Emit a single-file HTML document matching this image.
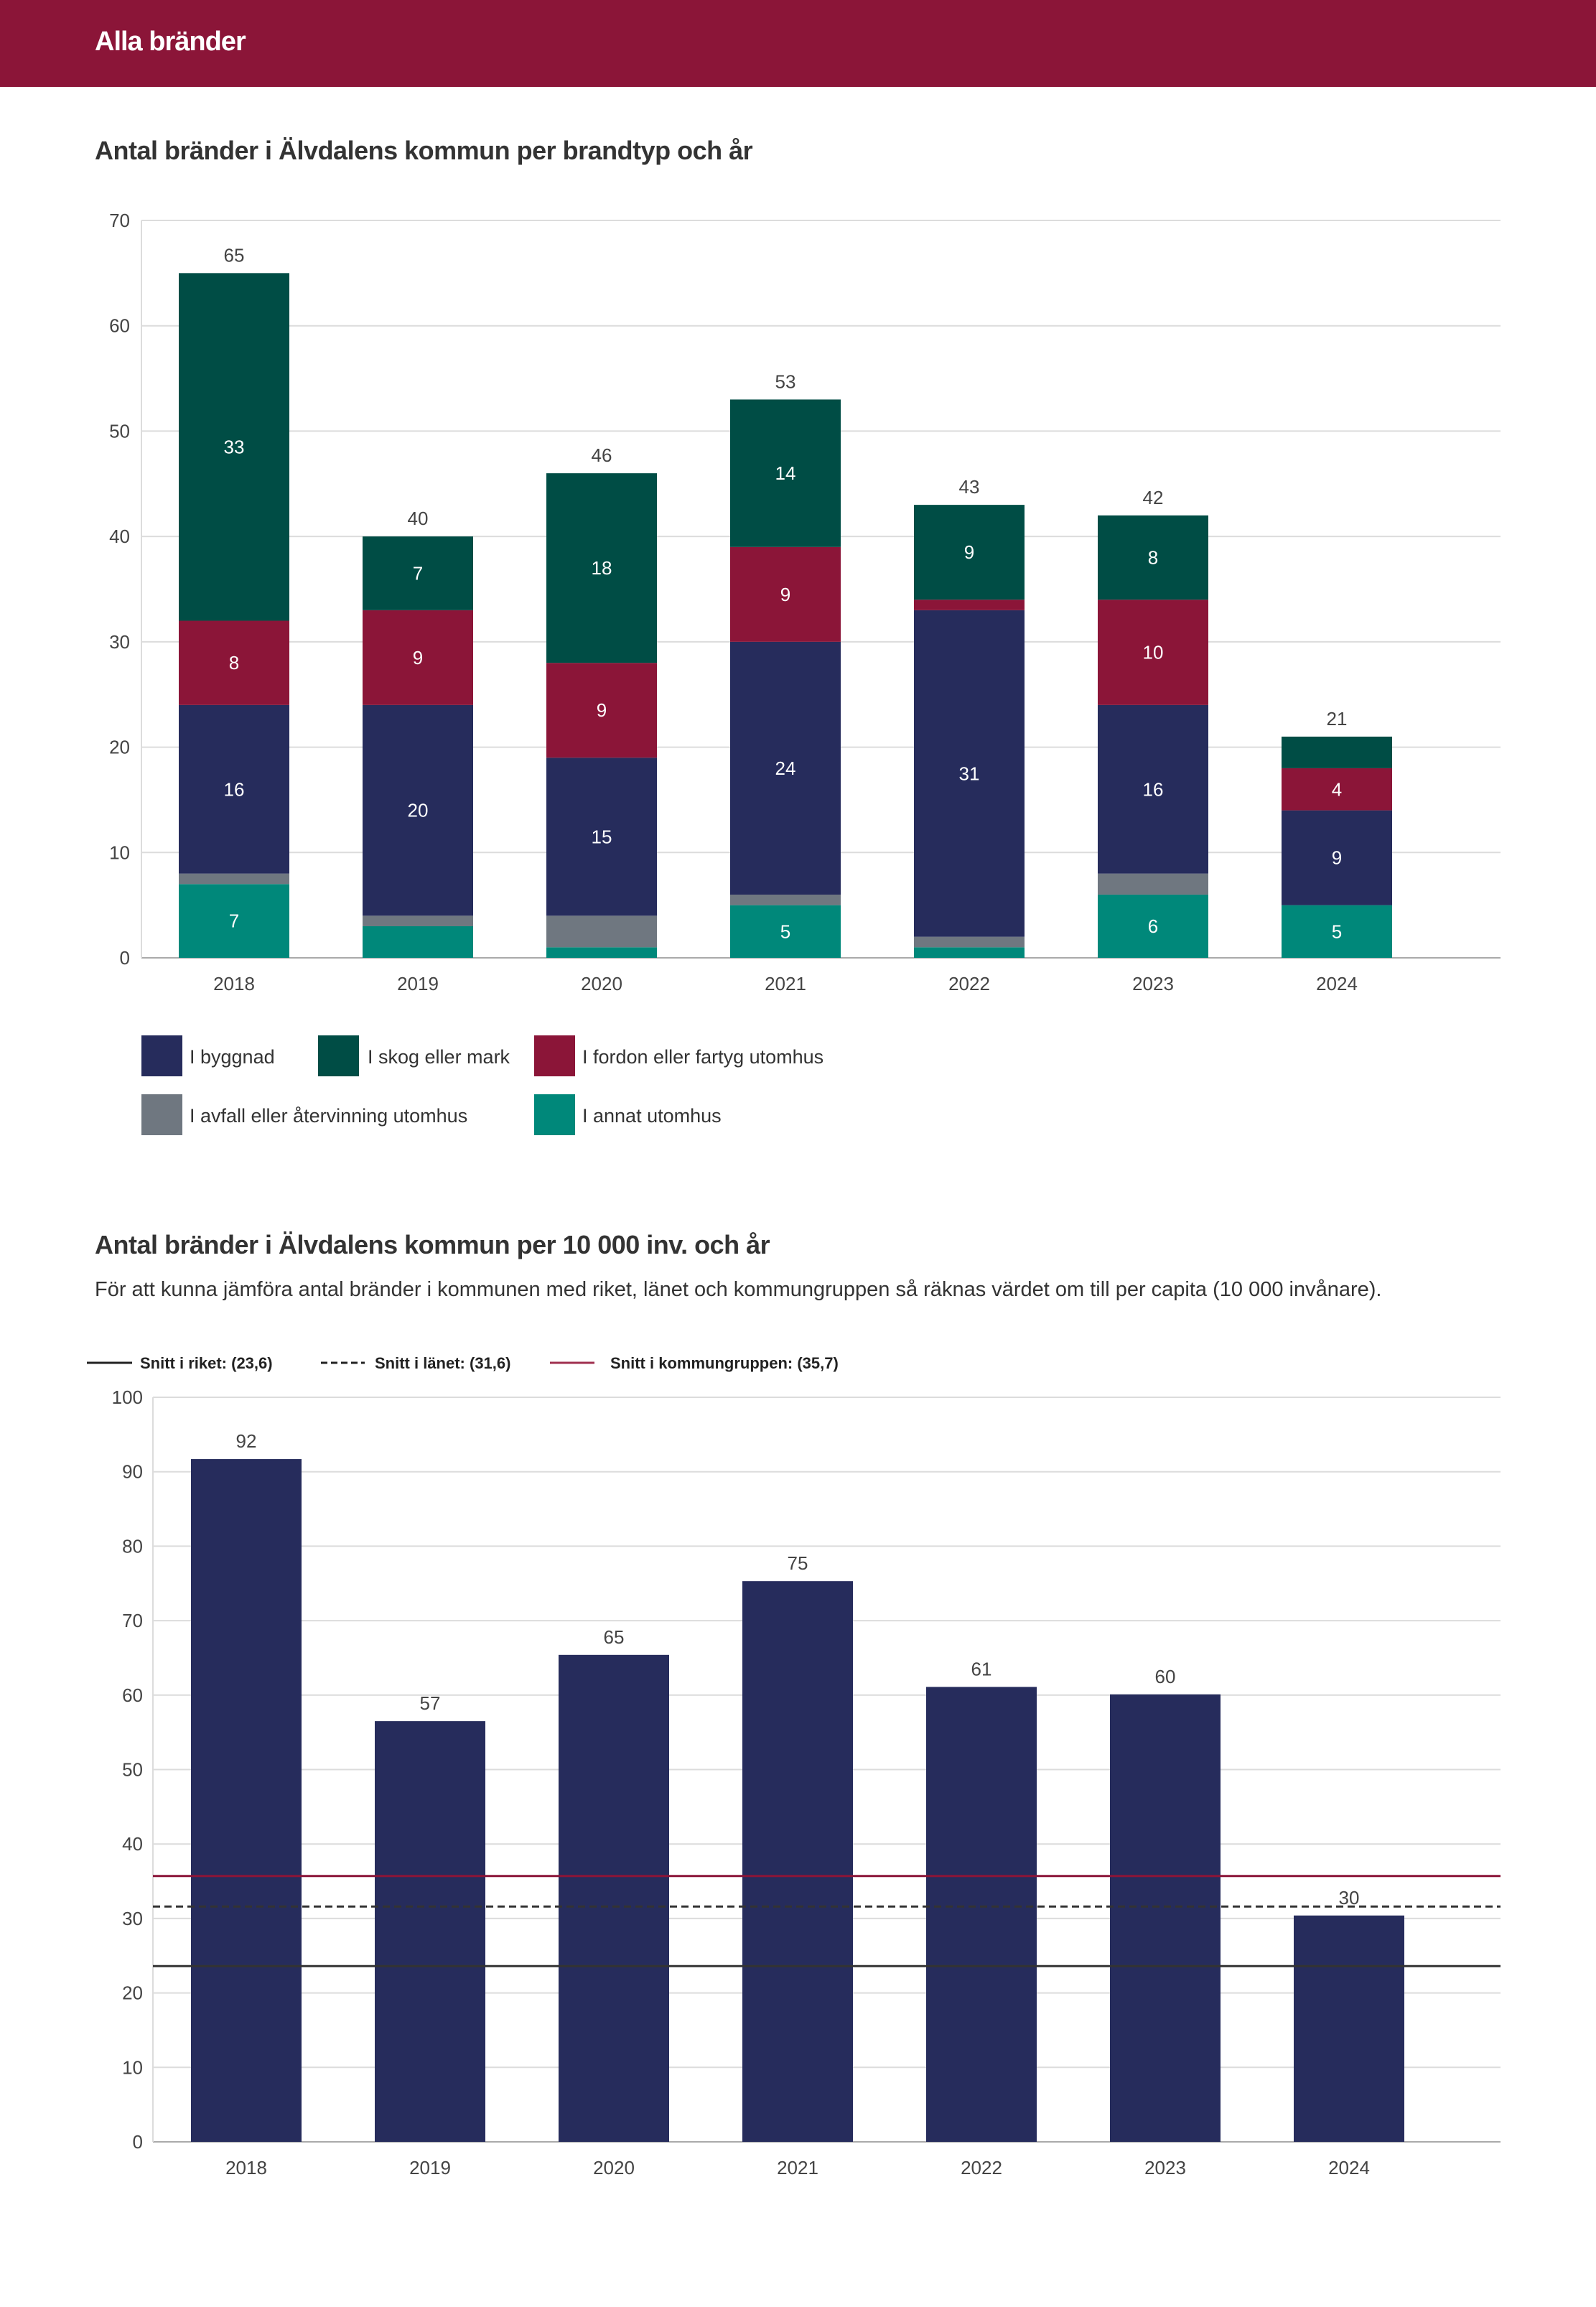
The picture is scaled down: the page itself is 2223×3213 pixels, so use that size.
<!DOCTYPE html>
<html><head><meta charset="utf-8">
<style>
html,body{margin:0;padding:0;background:#fff;}
svg{display:block;font-family:"Liberation Sans",sans-serif;}
</style></head>
<body>
<svg id="page" width="2223" height="3213" viewBox="0 0 2223 3213" xmlns="http://www.w3.org/2000/svg">
<rect x="0" y="0" width="2223" height="121" fill="#8b1538"/>
<text x="132" y="70" font-size="38" font-weight="bold" fill="#fff" letter-spacing="-1">Alla bränder</text>
<text x="132" y="222" font-size="36" font-weight="bold" fill="#333" letter-spacing="-0.5">Antal bränder i Älvdalens kommun per brandtyp och år</text>
<g id="c1"></g>
<g>
 <g><rect x="197" y="1442" width="57" height="57" fill="#262c5c"/><text x="264" y="1481" font-size="27" fill="#333">I byggnad</text></g>
 <g><rect x="443" y="1442" width="57" height="57" fill="#004d45"/><text x="512" y="1481" font-size="27" fill="#333">I skog eller mark</text></g>
 <g><rect x="744" y="1442" width="57" height="57" fill="#8b1538"/><text x="811" y="1481" font-size="27" fill="#333">I fordon eller fartyg utomhus</text></g>
 <g><rect x="197" y="1524" width="57" height="57" fill="#6f7780"/><text x="264" y="1563" font-size="27" fill="#333">I avfall eller återvinning utomhus</text></g>
 <g><rect x="744" y="1524" width="57" height="57" fill="#00887a"/><text x="811" y="1563" font-size="27" fill="#333">I annat utomhus</text></g>
</g>
<text x="132" y="1746" font-size="36" font-weight="bold" fill="#333" letter-spacing="-0.5">Antal bränder i Älvdalens kommun per 10 000 inv. och år</text>
<text x="132" y="1805" font-size="29" fill="#333">För att kunna jämföra antal bränder i kommunen med riket, länet och kommungruppen så räknas värdet om till per capita (10 000 invånare).</text>
<g>
 <g><line x1="121" y1="1898" x2="184" y2="1898" stroke="#222" stroke-width="3"/><text x="195" y="1906" font-size="22" font-weight="bold" fill="#222">Snitt i riket: (23,6)</text></g>
 <g><line x1="447" y1="1898" x2="508" y2="1898" stroke="#222" stroke-width="3" stroke-dasharray="9,5"/><text x="522" y="1906" font-size="22" font-weight="bold" fill="#222">Snitt i länet: (31,6)</text></g>
 <g><line x1="766" y1="1898" x2="828" y2="1898" stroke="#a0304f" stroke-width="3"/><text x="850" y="1906" font-size="22" font-weight="bold" fill="#222">Snitt i kommungruppen: (35,7)</text></g>
</g>
<g id="c2"></g>
</svg>
<script>
const years = ["2018","2019","2020","2021","2022","2023","2024"];
const byggnad = [16,20,15,24,31,16,9];
const skog = [33,7,18,14,9,8,3];
const fordon = [8,9,9,9,1,10,4];
const avfall = [1,1,3,1,1,2,0];
const annat = [7,3,1,5,1,6,5];
const ticks1 = [0,10,20,30,40,50,60,70];
const perCapita = [91.7,56.5,65.4,75.3,61.1,60.1,30.4];
const perCapitaLabels = ["92","57","65","75","61","60","30"];
const ticks2 = [0,10,20,30,40,50,60,70,80,90,100];
const refRiket = 23.6, refLanet = 31.6, refGrupp = 35.7;

const NS="http://www.w3.org/2000/svg";
function mk(parent,tag,attrs,text){const e=document.createElementNS(NS,tag);for(const k in attrs)e.setAttribute(k,attrs[k]);if(text!==undefined)e.textContent=text;parent.appendChild(e);return e;}

// Chart 1
(function(){
const g=document.getElementById('c1');
const L=197,R=2090,Y0=1334,Ytop=307,max=70;
const y=v=>Y0-(Y0-Ytop)*v/max;
const x0=326,step=256,bw=154;
const xc=i=>x0+i*step;
ticks1.forEach(t=>{
 const gl=mk(g,'line',{x1:L,x2:R,y1:y(t),y2:y(t),stroke:t===0?'#aaa':'#dcdcdc','stroke-width':2});
 
 
 const tl=mk(g,'text',{x:L-16,y:y(t)+9,'text-anchor':'end','font-size':26,fill:'#444'},String(t));
 
 
});
const ax=mk(g,'line',{x1:L,x2:L,y1:Ytop,y2:Y0,stroke:'#dcdcdc','stroke-width':2});


const series=[[annat,'#00887a','annat'],[avfall,'#6f7780','avfall'],[byggnad,'#262c5c','byggnad'],[fordon,'#8b1538','fordon'],[skog,'#004d45','skog']];
years.forEach((yr,i)=>{
 let acc=0;
 series.forEach(([arr,col,nm])=>{
  const v=arr[i]; if(v<=0)return;
  const r=mk(g,'rect',{x:xc(i)-bw/2,y:y(acc+v),width:bw,height:y(acc)-y(acc+v),fill:col});
  
  
  if(v>=4){
   const t=mk(g,'text',{x:xc(i),y:(y(acc)+y(acc+v))/2+9,'text-anchor':'middle','font-size':26,fill:'#fff'},String(v));
   
   
  }
  acc+=v;
 });
 const tt=mk(g,'text',{x:xc(i),y:y(acc)-16,'text-anchor':'middle','font-size':26,fill:'#444'},String(acc));
 
 
 const xl=mk(g,'text',{x:xc(i),y:Y0+45,'text-anchor':'middle','font-size':26,fill:'#444'},yr);
 
 
});
})();

// Chart 2
(function(){
const g=document.getElementById('c2');
const L=213,R=2090,Y0=2983,Ytop=1946,max=100;
const y=v=>Y0-(Y0-Ytop)*v/max;
const x0=343,step=256,bw=154;
const xc=i=>x0+i*step;
ticks2.forEach(t=>{
 const gl=mk(g,'line',{x1:L,x2:R,y1:y(t),y2:y(t),stroke:t===0?'#aaa':'#dcdcdc','stroke-width':2});
 
 
 const tl=mk(g,'text',{x:L-14,y:y(t)+9,'text-anchor':'end','font-size':26,fill:'#444'},String(t));
 
 
});
const ax=mk(g,'line',{x1:L,x2:L,y1:Ytop,y2:Y0,stroke:'#dcdcdc','stroke-width':2});


years.forEach((yr,i)=>{
 const v=perCapita[i];
 const r=mk(g,'rect',{x:xc(i)-bw/2,y:y(v),width:bw,height:Y0-y(v),fill:'#262c5c'});
 
 
 const t=mk(g,'text',{x:xc(i),y:y(v)-16,'text-anchor':'middle','font-size':26,fill:'#444'},perCapitaLabels[i]);
 
 
 const xl=mk(g,'text',{x:xc(i),y:Y0+45,'text-anchor':'middle','font-size':26,fill:'#444'},yr);
 
 
});
const l1=mk(g,'line',{x1:L,x2:R,y1:y(refRiket),y2:y(refRiket),stroke:'#333','stroke-width':3});


const l2=mk(g,'line',{x1:L,x2:R,y1:y(refLanet),y2:y(refLanet),stroke:'#333','stroke-width':3,'stroke-dasharray':'10,6'});


const l3=mk(g,'line',{x1:L,x2:R,y1:y(refGrupp),y2:y(refGrupp),stroke:'#8b1538','stroke-width':3});


})();
</script>
</body></html>
